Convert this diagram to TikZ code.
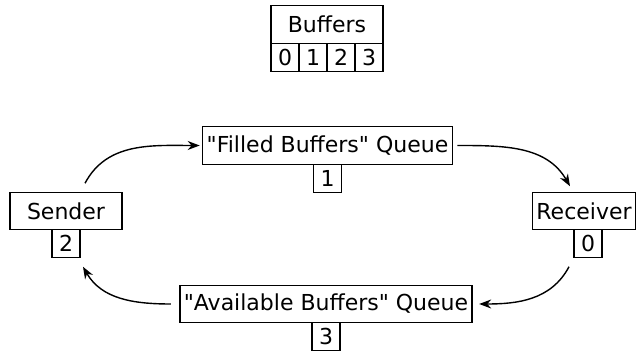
\documentclass[tikz,border=0pt]{standalone}
\usepackage{fontspec}
\setmainfont{DejaVu Sans}
\usetikzlibrary{positioning,arrows.meta}

\begin{document}
\begin{tikzpicture}[x=1pt, y=1pt,
    every node/.style = {draw, line width=1.4pt, outer sep=0pt,
      font=\fontsize{22}{26}\selectfont},
    label box/.style = {minimum height=37.5pt, inner xsep=4pt},
    num box/.style = {minimum width=28pt, minimum height=28pt, inner sep=0pt},
    flow/.style = {-{Stealth[length=12pt,width=9pt]}, line width=1.4pt}]
  \useasboundingbox (0,0) rectangle (638,-352);

  % buffer pool
  \node[label box, minimum width=112pt] (buffers) at (327,-24.5) {Buffers};
  \node[num box, anchor=north west] (buf0) at (buffers.south west) {0};
  \node[num box, right=0pt of buf0] (buf1) {1};
  \node[num box, right=0pt of buf1] (buf2) {2};
  \node[num box, right=0pt of buf2] (buf3) {3};

  % threads and queues
  \node[label box] (filled) at (327.5,-145.5)
    {\textquotedbl Filled Buffers\textquotedbl{} Queue};
  \node[num box, below=0pt of filled] (num1) {1};
  \node[label box, minimum width=112pt] (sender) at (66,-211) {Sender};
  \node[num box, below=0pt of sender] (num2) {2};
  \node[label box] (receiver) at (584,-211) {Receiver};
  \node[num box, below=0pt of receiver, xshift=4pt] (num0) {0};
  \node[label box] (available) at (326,-304)
    {\textquotedbl Available Buffers\textquotedbl{} Queue};
  \node[num box, below=0pt of available] (num3) {3};

  % buffer cycle
  \draw[flow] ([shift={(19,9)}]sender.north) to[out=62,in=180]
    ([xshift=-3pt]filled.west);
  \draw[flow] ([xshift=5pt]filled.east) to[out=0,in=120]
    ([shift={(-14,6)}]receiver.north);
  \draw[flow] ([shift={(-19,-9)}]num0.south) to[out=-118,in=0]
    ([xshift=7pt]available.east);
  \draw[flow] ([xshift=-9pt]available.west) to[out=180,in=-60]
    ([shift={(17,-9)}]num2.south);
\end{tikzpicture}
\end{document}
